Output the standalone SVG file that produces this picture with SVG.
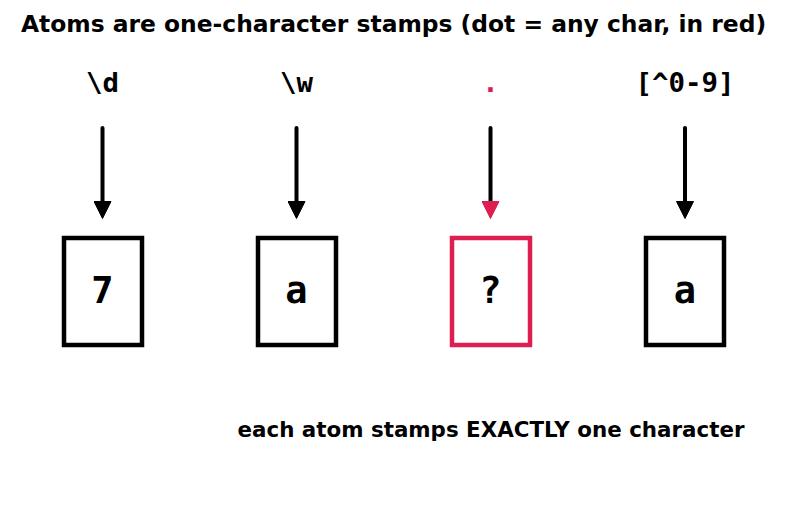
<svg xmlns="http://www.w3.org/2000/svg" width="787" height="510" viewBox="0 0 787 510">
<style>
.title{font-family:"DejaVu Sans",sans-serif;font-weight:bold;font-size:23.4px;fill:#000}
.note{font-family:"DejaVu Sans",sans-serif;font-weight:bold;font-size:21.4px;fill:#000}
.lbl{font-family:"DejaVu Sans Mono",monospace;font-weight:bold;font-size:27.4px;fill:#000}
.ch{font-family:"DejaVu Sans Mono",monospace;font-weight:bold;font-size:37px;fill:#000}
.box{fill:#fff;stroke:#000;stroke-width:4.5}
.red{stroke:#dc1f50}
.arr{stroke:#000;stroke-width:4;stroke-linecap:round;fill:none}
</style>
<defs>
<marker id="ah" viewBox="0 0 18 18" refX="12" refY="9" markerWidth="18" markerHeight="18" orient="auto" markerUnits="userSpaceOnUse">
<path d="M0.5,0.5 L17.5,9 L0.5,17.5 z" fill="#000" stroke="#000" stroke-width="1" stroke-linejoin="round"/>
</marker>
<marker id="ahr" viewBox="0 0 18 18" refX="12" refY="9" markerWidth="18" markerHeight="18" orient="auto" markerUnits="userSpaceOnUse">
<path d="M0.5,0.5 L17.5,9 L0.5,17.5 z" fill="#dc1f50" stroke="#dc1f50" stroke-width="1" stroke-linejoin="round"/>
</marker>
</defs>
<rect width="787" height="510" fill="#fff"/>
<text class="title" x="393.5" y="32" text-anchor="middle">Atoms are one-character stamps (dot = any char, in red)</text>
<g id="connectors">
<line class="arr" x1="102.5" y1="128" x2="102.5" y2="213" marker-end="url(#ah)"/>
<line class="arr" x1="296.5" y1="128" x2="296.5" y2="213" marker-end="url(#ah)"/>
<line class="arr red" x1="490.5" y1="128" x2="490.5" y2="213" marker-end="url(#ahr)"/>
<line class="arr" x1="685" y1="128" x2="685" y2="213" marker-end="url(#ah)"/>
</g>
<g id="atom-d">
<text class="lbl" x="102.5" y="92" text-anchor="middle">\d</text>
<rect class="box" x="64" y="238" width="78" height="107"/>
<text class="ch" x="102.5" y="303" text-anchor="middle">7</text>
</g>
<g id="atom-w">
<text class="lbl" x="296.5" y="92" text-anchor="middle">\w</text>
<rect class="box" x="258" y="238" width="78" height="107"/>
<text class="ch" x="296.5" y="303" text-anchor="middle">a</text>
</g>
<g id="atom-dot">
<text class="lbl" x="490.5" y="92" text-anchor="middle" style="fill:#dc1f50">.</text>
<rect class="box red" x="452" y="238" width="78" height="107"/>
<text class="ch" x="490.5" y="303" text-anchor="middle">?</text>
</g>
<g id="atom-class">
<text class="lbl" x="685" y="92" text-anchor="middle">[^0-9]</text>
<rect class="box" x="646" y="238" width="78" height="107"/>
<text class="ch" x="685" y="303" text-anchor="middle">a</text>
</g>
<text class="note" x="491" y="437" text-anchor="middle">each atom stamps EXACTLY one character</text>
</svg>
